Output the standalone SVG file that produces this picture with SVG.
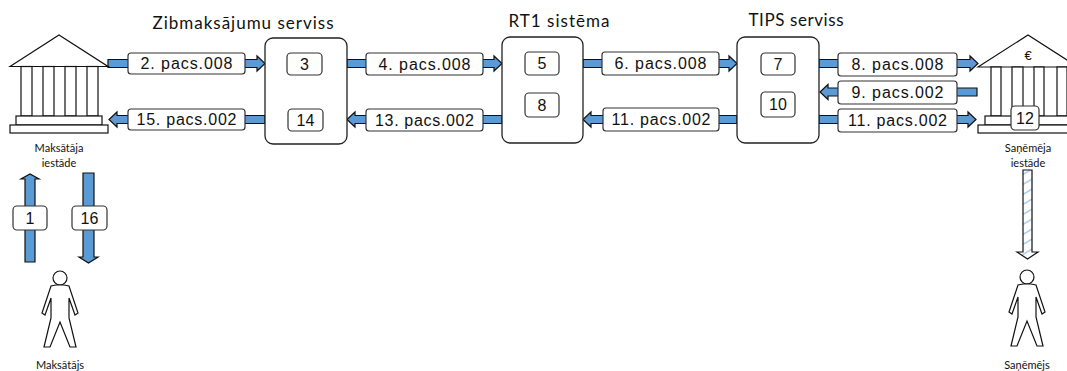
<svg xmlns="http://www.w3.org/2000/svg" width="1067" height="371" viewBox="0 0 1067 371">
<style>
.arr{fill:#5B9BD5;stroke:#111;stroke-width:1.2}
.lbl{fill:#fff;stroke:#333;stroke-width:1.2}
.big{fill:#fff;stroke:#222;stroke-width:1.3}
.ln{fill:#fff;stroke:#111;stroke-width:1.2}
.t{font-family:"Liberation Sans",Arial,sans-serif;font-size:16px;fill:#111;text-anchor:middle}
.title{font-family:Lato,"Open Sans",sans-serif;font-size:17px;fill:#111;text-anchor:middle}
.small{font-family:Lato,"Open Sans",sans-serif;font-size:11px;fill:#111;text-anchor:middle}
</style>
<defs>
<pattern id="hatch" width="10" height="10" patternUnits="userSpaceOnUse" patternTransform="skewY(-30)">
<rect width="10" height="10" fill="#fff"/>
<line x1="0" y1="5" x2="10" y2="5" stroke="#9DC3E6" stroke-width="1.5"/>
</pattern>
<g id="person">
<circle cx="0" cy="0" r="7" class="ln"/>
<polygon class="ln" points="-4,7 -9,8 -18,35 -15,37 -9,20 -9,40 -16,69 -10,69 0,44 10,69 16,69 9,40 9,20 15,37 18,35 9,8 4,7"/>
</g>
</defs>

<g id="connectors">
<path class="arr" d="M108,59.5 H257 V56 L265,63.5 L257,71 V67.5 H108 Z"/>
<path class="arr" d="M265,115.5 H117 V112 L109,119.5 L117,127 V123.5 H265 Z"/>
<path class="arr" d="M347,59.5 H494 V56 L502,63.5 L494,71 V67.5 H347 Z"/>
<path class="arr" d="M502,115.5 H355 V112 L347,119.5 L355,127 V123.5 H502 Z"/>
<path class="arr" d="M583,59.5 H729 V56 L737,63.5 L729,71 V67.5 H583 Z"/>
<path class="arr" d="M737,115.5 H591 V112 L583,119.5 L591,127 V123.5 H737 Z"/>
<path class="arr" d="M819,59.5 H970 V56 L978,63.5 L970,71 V67.5 H819 Z"/>
<path class="arr" d="M977,88 H828 V84.5 L820,92 L828,99.5 V96 H977 Z"/>
<path class="arr" d="M819,115.5 H968 V112 L976,119.5 L968,127 V123.5 H819 Z"/>
<path class="arr" d="M25,262 V179 H21 L30,174 L39,179 H35 V262 Z"/>
<path class="arr" d="M83,173 V257 H79 L88.5,263 L98,257 H94 V173 Z"/>
<path d="M1023,170 V252 H1017 L1027.5,259 L1038,252 H1032 V170 Z" fill="url(#hatch)" stroke="#111" stroke-width="1.2"/>

<g id="labels">
<rect class="lbl" x="128" y="53" width="117" height="21" rx="3"/><text class="t" x="186.5" y="69" textLength="92">2. pacs.008</text>
<rect class="lbl" x="128" y="109" width="117" height="21" rx="3"/><text class="t" x="186.5" y="125" textLength="100">15. pacs.002</text>
<rect class="lbl" x="366" y="53" width="117" height="22" rx="3"/><text class="t" x="424.5" y="69.5" textLength="92">4. pacs.008</text>
<rect class="lbl" x="366" y="109" width="117" height="22" rx="3"/><text class="t" x="424.5" y="125.5" textLength="99">13. pacs.002</text>
<rect class="lbl" x="602" y="52" width="117" height="23" rx="3"/><text class="t" x="660.5" y="69" textLength="92">6. pacs.008</text>
<rect class="lbl" x="603" y="108" width="116" height="23" rx="3"/><text class="t" x="661" y="125" textLength="99">11. pacs.002</text>
<rect class="lbl" x="838" y="53" width="119" height="23" rx="3"/><text class="t" x="897.5" y="70" textLength="92">8. pacs.008</text>
<rect class="lbl" x="838" y="81" width="119" height="23" rx="3"/><text class="t" x="897.5" y="98" textLength="92">9. pacs.002</text>
<rect class="lbl" x="838" y="109" width="119" height="23" rx="3"/><text class="t" x="897.5" y="126" textLength="99">11. pacs.002</text>
<rect class="lbl" x="13" y="206" width="34" height="24" rx="4"/><text class="t" x="30" y="223.5">1</text>
<rect class="lbl" x="72" y="206" width="35" height="24" rx="4"/><text class="t" x="89.5" y="223.5">16</text>
</g>
</g>

<g id="bank-payer">
<polygon class="ln" points="10,66.5 59,35 108,66.5"/>
<rect class="ln" x="21" y="66.5" width="11" height="49.5"/>
<rect class="ln" x="43" y="66.5" width="11" height="49.5"/>
<rect class="ln" x="65" y="66.5" width="11" height="49.5"/>
<rect class="ln" x="87" y="66.5" width="11" height="49.5"/>
<rect class="ln" x="16" y="116" width="86" height="9"/>
<rect class="ln" x="10" y="125" width="98" height="8"/>
<text class="small" x="59" y="152">Maksātāja</text>
<text class="small" x="59" y="167">iestāde</text>
</g>

<g id="instant-service">
<rect class="big" x="265" y="38" width="82" height="106" rx="8"/>
<text class="title" x="243" y="29" textLength="181">Zibmaksājumu serviss</text>
<rect class="lbl" x="287" y="53" width="35" height="22" rx="4"/><text class="t" x="304.5" y="69.5">3</text>
<rect class="lbl" x="288" y="109" width="35" height="22" rx="4"/><text class="t" x="305.5" y="125.5">14</text>
</g>

<g id="rt1">
<rect class="big" x="502" y="37" width="81" height="106" rx="8"/>
<text class="title" x="559" y="27" textLength="101">RT1 sistēma</text>
<rect class="lbl" x="525" y="52" width="34" height="23" rx="4"/><text class="t" x="542" y="69">5</text>
<rect class="lbl" x="525" y="93" width="34" height="24" rx="4"/><text class="t" x="542" y="110.5">8</text>
</g>

<g id="tips">
<rect class="big" x="737" y="37" width="82" height="106" rx="8"/>
<text class="title" x="796" y="26" textLength="95">TIPS serviss</text>
<rect class="lbl" x="761" y="53" width="34" height="22" rx="4"/><text class="t" x="778" y="69.5">7</text>
<rect class="lbl" x="761" y="92" width="34" height="25" rx="4"/><text class="t" x="778" y="110">10</text>
</g>

<g id="bank-payee">
<polygon class="ln" points="978,67 1028,35 1078,67"/>
<text class="t" x="1028" y="60" style="font-size:13px">€</text>
<rect class="ln" x="991" y="67" width="10" height="49"/>
<rect class="ln" x="1012" y="67" width="11" height="49"/>
<rect class="ln" x="1034" y="67" width="10" height="49"/>
<rect class="ln" x="1057" y="67" width="10" height="49"/>
<rect class="ln" x="985" y="116" width="100" height="9"/>
<rect class="ln" x="978" y="125" width="110" height="8"/>
<rect class="lbl" x="1011" y="106" width="28" height="24" rx="4"/><text class="t" x="1025" y="123.5">12</text>
<text class="small" x="1028" y="152">Saņēmēja</text>
<text class="small" x="1028" y="167">iestāde</text>
</g>

<g id="payer">
<use href="#person" x="60" y="278"/>
<text class="small" x="60" y="369">Maksātājs</text>
</g>

<g id="payee">
<use href="#person" x="1027" y="277"/>
<text class="small" x="1027" y="369">Saņēmējs</text>
</g>
</svg>
